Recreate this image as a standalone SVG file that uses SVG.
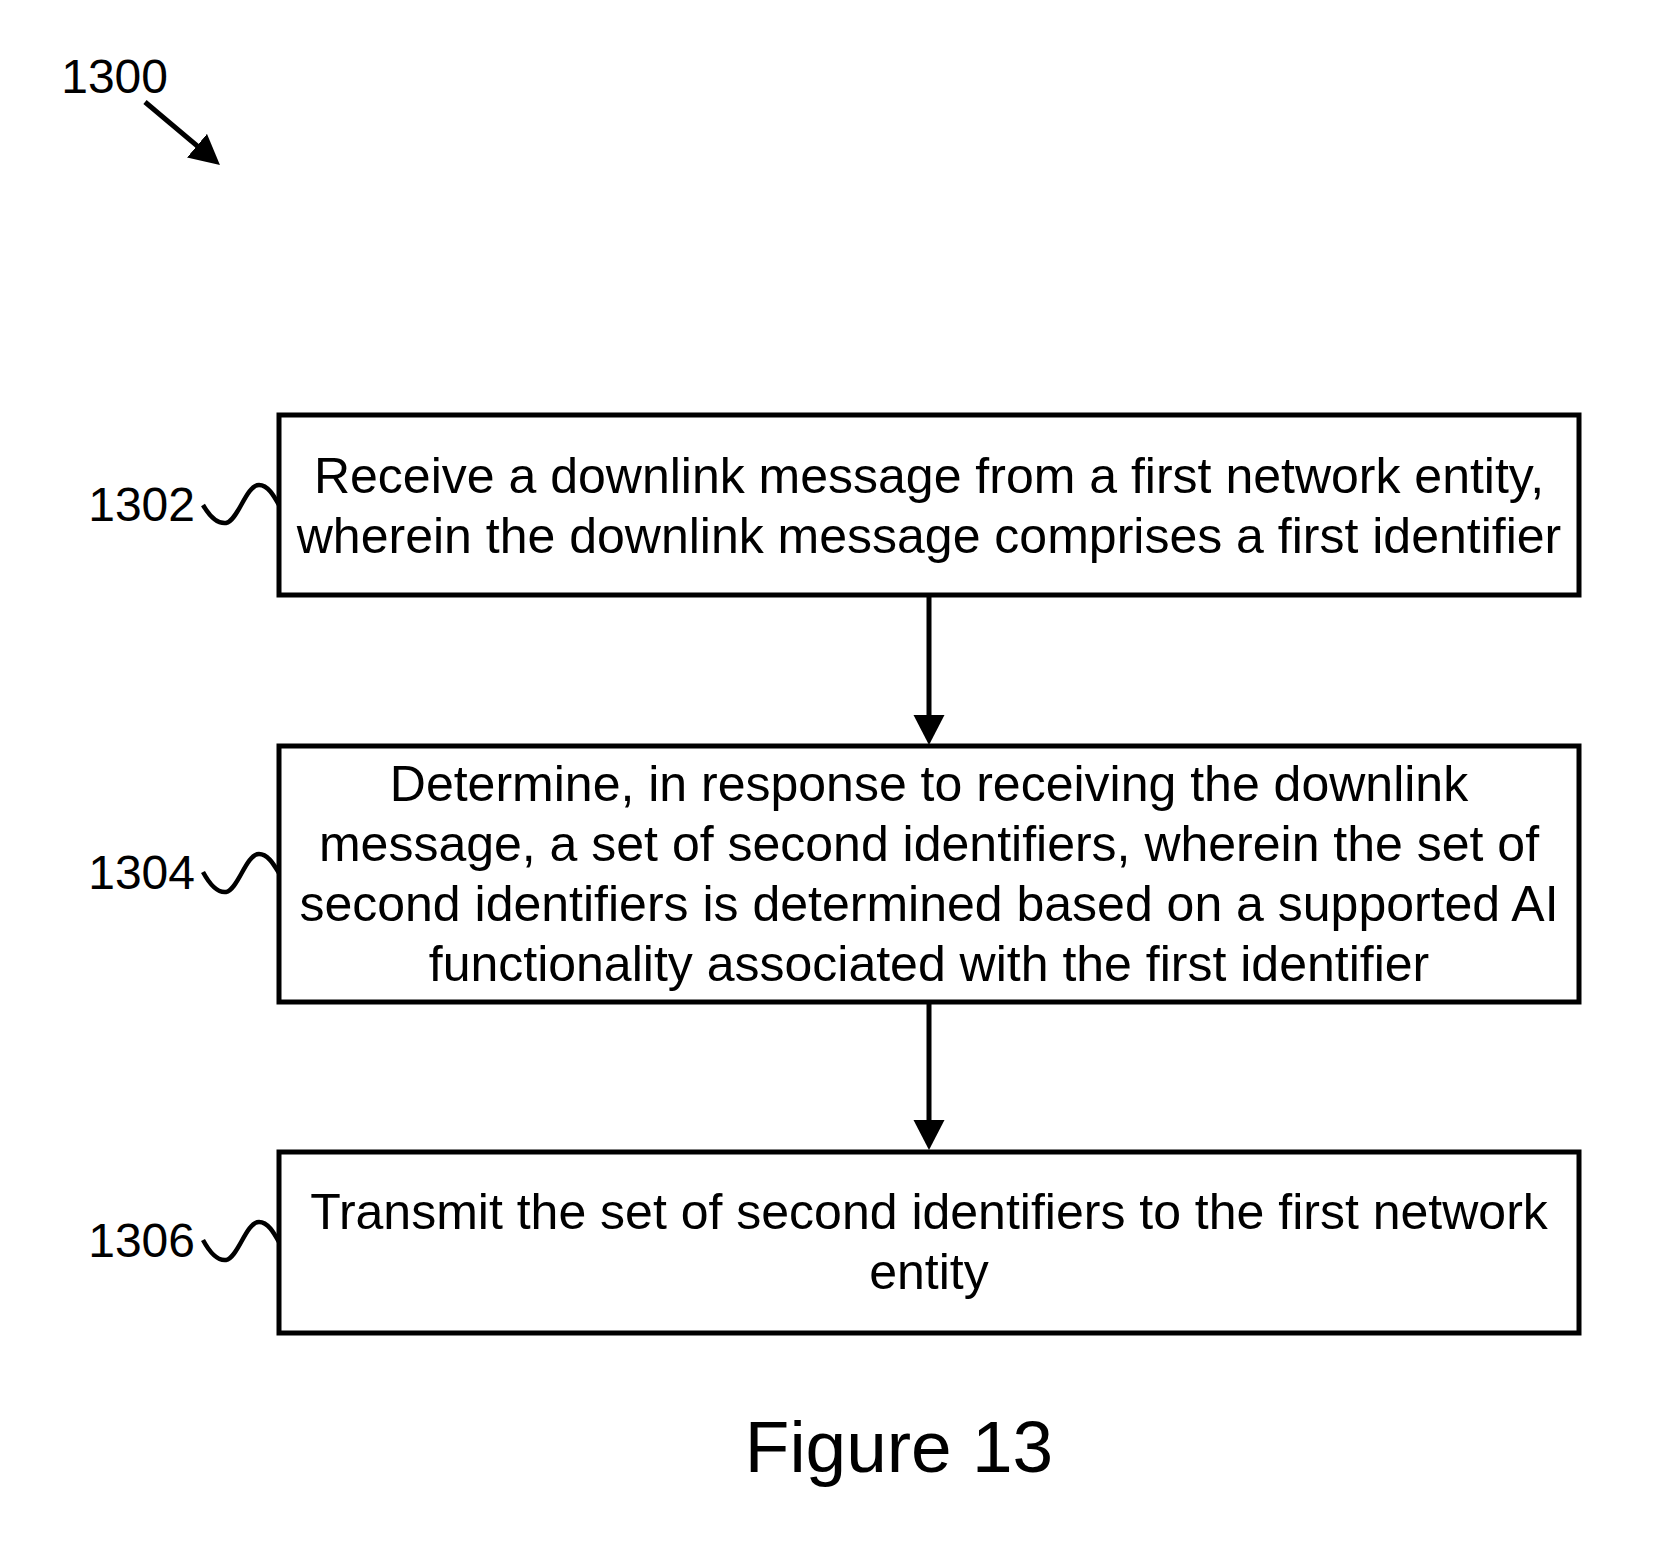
<svg xmlns="http://www.w3.org/2000/svg" width="1673" height="1556" viewBox="0 0 1673 1556">
<style>
.box{fill:#fff;stroke:#000;stroke-width:5}
.t{font-family:"Liberation Sans",Arial,sans-serif;font-size:50px;fill:#000;text-anchor:middle}
.lbl{font-family:"Liberation Sans",Arial,sans-serif;font-size:48px;fill:#000;text-anchor:end}
.conn{stroke:#000;stroke-width:5;fill:none}
.sq{stroke:#000;stroke-width:4.5;fill:none}
</style>
<defs>
<marker id="ah" markerUnits="userSpaceOnUse" markerWidth="32" markerHeight="32" refX="20" refY="15.5" orient="auto" viewBox="0 0 32 31">
<path d="M0,0 L30,15.5 L0,31 z" fill="#000"/>
</marker>
</defs>
<rect width="1673" height="1556" fill="#fff"/>
<g id="label-1300">
<text class="lbl" x="168" y="93">1300</text>
</g>
<g id="connectors">
<line class="conn" x1="145" y1="102" x2="212.3" y2="158.6" marker-end="url(#ah)"/>
<line class="conn" x1="929" y1="595" x2="929" y2="735" marker-end="url(#ah)"/>
<line class="conn" x1="929" y1="1002" x2="929" y2="1140" marker-end="url(#ah)"/>
</g>
<g id="node-1302">
<rect class="box" x="279" y="415" width="1300" height="180"/>
<text class="t" x="929" y="493">Receive a downlink message from a first network entity,</text>
<text class="t" x="929" y="553">wherein the downlink message comprises a first identifier</text>
<text class="lbl" x="195" y="521">1302</text>
<path class="sq" d="M203,505 C210,517 217,524 226,523 C238,521 246,485 259,485 C268,485 274,496 279,505"/>
</g>
<g id="node-1304">
<rect class="box" x="279" y="746" width="1300" height="256"/>
<text class="t" x="929" y="801">Determine, in response to receiving the downlink</text>
<text class="t" x="929" y="861">message, a set of second identifiers, wherein the set of</text>
<text class="t" x="929" y="921">second identifiers is determined based on a supported AI</text>
<text class="t" x="929" y="981">functionality associated with the first identifier</text>
<text class="lbl" x="195" y="889">1304</text>
<path class="sq" d="M203,872 C210,885 217,893 226,892 C238,890 246,854 259,854 C268,854 274,865 279,873"/>
</g>
<g id="node-1306">
<rect class="box" x="279" y="1152" width="1300" height="181"/>
<text class="t" x="929" y="1229">Transmit the set of second identifiers to the first network</text>
<text class="t" x="929" y="1289">entity</text>
<text class="lbl" x="195" y="1257">1306</text>
<path class="sq" d="M203,1240 C210,1253 217,1261 226,1260 C238,1258 246,1222 259,1222 C268,1222 274,1233 279,1242"/>
</g>
<g id="caption">
<text x="899" y="1472" style="font-family:'Liberation Sans',Arial,sans-serif;font-size:73px;text-anchor:middle;fill:#000">Figure 13</text>
</g>
</svg>
